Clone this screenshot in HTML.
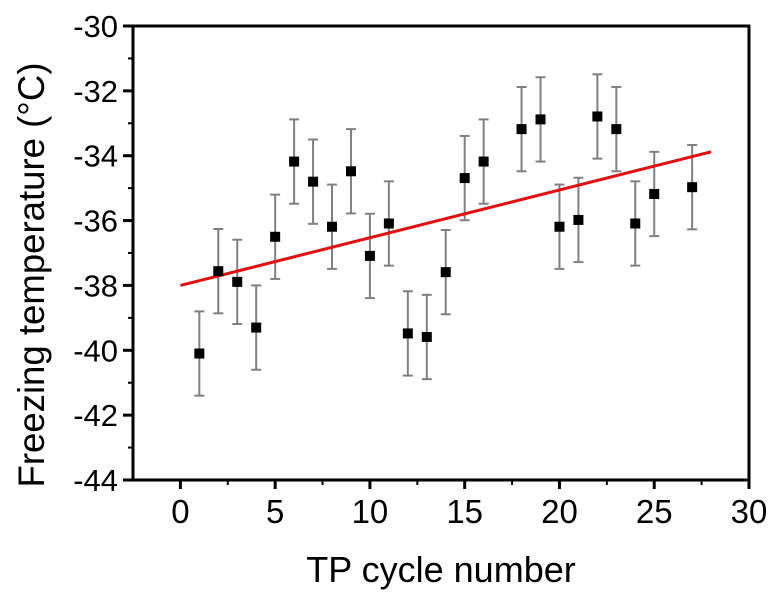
<!DOCTYPE html>
<html><head><meta charset="utf-8"><style>
html,body{margin:0;padding:0;background:#fff;}
svg{display:block;font-family:"Liberation Sans",Arial,sans-serif;}
</style></head><body>
<svg id="chart" width="784" height="602" viewBox="0 0 784 602">
<g id="axes"></g><g id="series"></g>
</svg>
<script>
const cycles = [1,2,3,4,5,6,7,8,9,10,11,12,13,14,15,16,18,19,20,21,22,23,24,25,27];
const temps = [-40.1,-37.56,-37.89,-39.3,-36.5,-34.18,-34.8,-36.19,-34.48,-37.09,-36.09,-39.48,-39.59,-37.59,-34.69,-34.18,-33.18,-32.88,-36.19,-35.98,-32.79,-33.18,-36.09,-35.18,-34.97];
const errors = [1.3,1.3,1.3,1.3,1.3,1.3,1.3,1.3,1.3,1.3,1.3,1.3,1.3,1.3,1.3,1.3,1.3,1.3,1.3,1.3,1.3,1.3,1.3,1.3,1.3];
const fitX = [0,28];
const fitY = [-38.0,-33.88];
const xTicks = [0,5,10,15,20,25,30];
const yTicks = [-30,-32,-34,-36,-38,-40,-42,-44];

const NS="http://www.w3.org/2000/svg";
const X0=133,X1=749,Y0=480,Y1=26;
const xmin=-2.5,xmax=30,ymin=-44,ymax=-30;
function sx(v){return X0+(v-xmin)/(xmax-xmin)*(X1-X0);}
function sy(v){return Y0-(v-ymin)/(ymax-ymin)*(Y0-Y1);}
function mk(tag,attrs,parent){const e=document.createElementNS(NS,tag);for(const k in attrs)e.setAttribute(k,attrs[k]);parent.appendChild(e);return e;}
const axes=document.getElementById('axes'),ser=document.getElementById('series');

let frame=mk('rect',{x:X0,y:Y1,width:X1-X0,height:Y0-Y1,fill:'none',stroke:'#000','stroke-width':3},axes);



xTicks.forEach((t,i)=>{
  const x=sx(t);
  let tk=mk('line',{x1:x,x2:x,y1:Y0,y2:Y0+9,stroke:'#000','stroke-width':3},axes);
  
  
  if(i<xTicks.length-1){
    const xm=sx(t+2.5);
    let m=mk('line',{x1:xm,x2:xm,y1:Y0,y2:Y0+5,stroke:'#000','stroke-width':2},axes);
    
    
  }
  let lb=mk('text',{x:x,y:523,'text-anchor':'middle','font-size':33,fill:'#000'},axes);
  lb.textContent=t;
  
  
});
yTicks.forEach((t,i)=>{
  const y=sy(t);
  let tk=mk('line',{x1:X0-10,x2:X0,y1:y,y2:y,stroke:'#000','stroke-width':3},axes);
  
  
  if(i<yTicks.length-1){
    const ym=sy(t-1);
    let m=mk('line',{x1:X0-5,x2:X0,y1:ym,y2:ym,stroke:'#000','stroke-width':2},axes);
    
    
  }
  let lb=mk('text',{x:118,y:y+11,'text-anchor':'end','font-size':31,fill:'#000'},axes);
  lb.textContent=t;
  
  
});
let xt=mk('text',{x:441,y:582,'text-anchor':'middle','font-size':36,fill:'#000'},axes);
xt.textContent='TP cycle number';


let yt=mk('text',{x:0,y:0,'text-anchor':'middle','font-size':37,fill:'#000',textLength:425,lengthAdjust:'spacingAndGlyphs',transform:'translate(44,275) rotate(-90)'},axes);
yt.textContent='Freezing temperature (°C)';



cycles.forEach((c,i)=>{
  const x=sx(c),yv=temps[i],e=errors[i];
  const yt2=sy(yv+e),yb=sy(yv-e);
  let g=mk('g',{},ser);
  
  
  mk('line',{x1:x,x2:x,y1:yt2,y2:yb,stroke:'#808080','stroke-width':2},g);
  mk('line',{x1:x-5,x2:x+5,y1:yt2,y2:yt2,stroke:'#808080','stroke-width':2},g);
  mk('line',{x1:x-5,x2:x+5,y1:yb,y2:yb,stroke:'#808080','stroke-width':2},g);
});
let fl=mk('line',{x1:sx(fitX[0]),y1:sy(fitY[0]),x2:sx(fitX[1]),y2:sy(fitY[1]),stroke:'#e01010','stroke-width':3},ser);


cycles.forEach((c,i)=>{
  let p=mk('rect',{x:sx(c)-5,y:sy(temps[i])-5,width:10,height:10,fill:'#000'},ser);
  
  
});
</script>
</body></html>
